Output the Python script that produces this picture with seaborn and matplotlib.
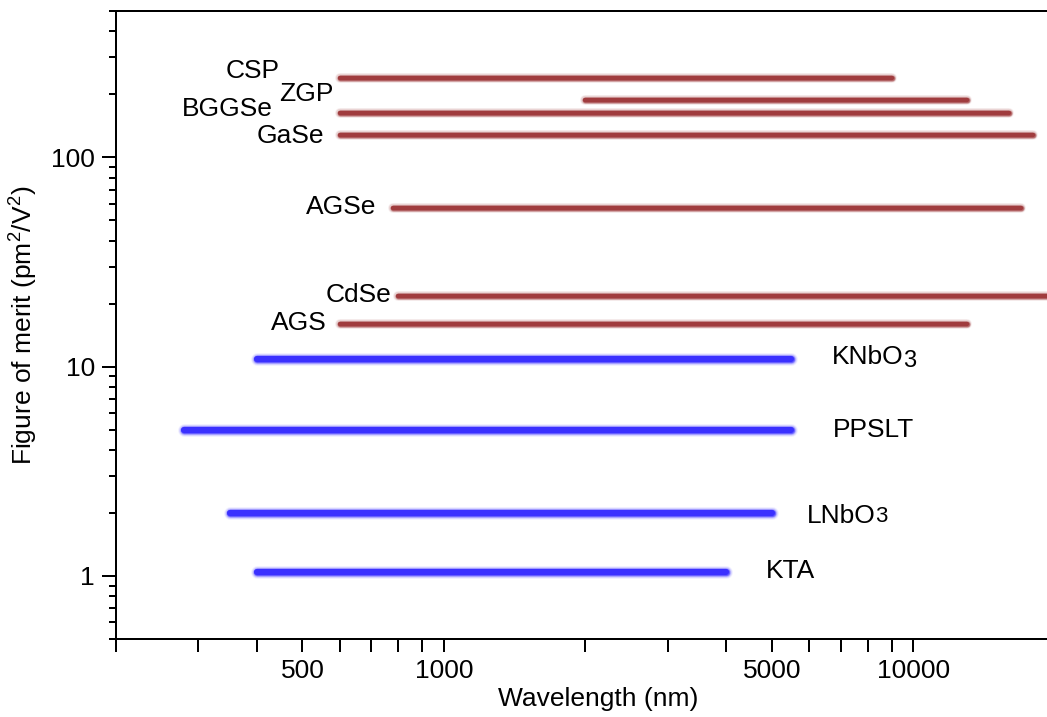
import numpy as np
import pandas as pd
import matplotlib
matplotlib.use("Agg")
import matplotlib.pyplot as plt
import matplotlib.patheffects as pe
from matplotlib.ticker import FixedLocator, LogLocator, NullFormatter, FuncFormatter
import seaborn as sns

# Nonlinear optical crystals: transparency range and figure of merit
ir_names = ["CSP", "ZGP", "BGGSe", "GaSe", "AGSe", "CdSe", "AGS"]
ir_start = [600, 2000, 600, 600, 780, 800, 600]          # nm
ir_end = [9000, 13000, 16000, 18000, 17000, 24000, 13000]  # nm
ir_fom = [240, 188, 163, 128, 57.5, 21.7, 16.0]           # pm^2/V^2

ox_names = ["KNbO3", "PPSLT", "LNbO3", "KTA"]
ox_start = [400, 280, 350, 400]
ox_end = [5500, 5500, 5000, 4000]
ox_fom = [10.9, 5.0, 2.0, 1.04]

x_major = [500, 1000, 5000, 10000]
y_major = [1, 10, 100]

RED = "#a03c3e"
BLUE = "#3a30ff"
FS = 19


def long_form(names, start, end, fom, kind):
    rows = []
    for n, s, e, f in zip(names, start, end, fom):
        rows.append({"material": n, "wavelength": s, "merit": f, "kind": kind})
        rows.append({"material": n, "wavelength": e, "merit": f, "kind": kind})
    return pd.DataFrame(rows)


df_ir = long_form(ir_names, ir_start, ir_end, ir_fom, "IR")
df_ox = long_form(ox_names, ox_start, ox_end, ox_fom, "oxide")

sns.set_theme(style="ticks")
plt.rcParams["font.family"] = ["Liberation Sans", "DejaVu Sans"]
plt.rcParams["mathtext.fontset"] = "custom"
plt.rcParams["mathtext.rm"] = "Liberation Sans"
plt.rcParams["mathtext.it"] = "Liberation Sans"
plt.rcParams["text.color"] = "black"
plt.rcParams["axes.labelcolor"] = "black"
plt.rcParams["xtick.color"] = "black"
plt.rcParams["ytick.color"] = "black"

fig = plt.figure(figsize=(10.47, 7.17), dpi=100)
ax = fig.add_axes([0.1105, 0.1088, 0.921, 0.876])

sns.lineplot(data=df_ir, x="wavelength", y="merit", units="material",
             estimator=None, sort=False, color=RED, lw=3.2,
             solid_capstyle="round", legend=False, ax=ax)
n_ir = len(ax.lines)
sns.lineplot(data=df_ox, x="wavelength", y="merit", units="material",
             estimator=None, sort=False, color=BLUE, lw=4.4,
             solid_capstyle="round", legend=False, ax=ax)

# soft glow around the bars
for i, ln in enumerate(ax.lines):
    lw = ln.get_linewidth()
    extra = 4.0 if i < n_ir else 4.8
    ln.set_path_effects([
        pe.Stroke(linewidth=lw + extra, alpha=0.08),
        pe.Stroke(linewidth=lw + extra * 0.7, alpha=0.15),
        pe.Stroke(linewidth=lw + extra * 0.4, alpha=0.3),
        pe.Stroke(linewidth=lw + extra * 0.15, alpha=0.55),
        pe.Normal(),
    ])

ax.set_xscale("log")
ax.set_yscale("log")
ax.set_xlim(200, 22660)
ax.set_ylim(0.5, 500)

ax.xaxis.set_major_locator(FixedLocator(x_major))
ax.xaxis.set_minor_locator(LogLocator(base=10, subs=np.arange(1, 10)))
ax.yaxis.set_major_locator(FixedLocator(y_major))
ax.yaxis.set_minor_locator(LogLocator(base=10, subs=np.arange(1, 10)))
plain = FuncFormatter(lambda v, p: f"{v:g}")
ax.xaxis.set_major_formatter(plain)
ax.yaxis.set_major_formatter(plain)
ax.xaxis.set_minor_formatter(NullFormatter())
ax.yaxis.set_minor_formatter(NullFormatter())

ax.tick_params(axis="x", which="both", direction="out", length=9.4,
               width=1.44, color="black", labelsize=FS, pad=5,
               labelcolor="black")
ax.tick_params(axis="y", which="major", direction="out", length=10,
               width=1.44, color="black", labelsize=FS, pad=5,
               labelcolor="black")
ax.tick_params(axis="y", which="minor", direction="out", length=5,
               width=1.44, color="black")

for side in ["left", "bottom", "top"]:
    ax.spines[side].set_linewidth(1.44)
    ax.spines[side].set_color("black")
ax.spines["right"].set_visible(False)

ax.set_xlabel("Wavelength (nm)", fontsize=FS, color="black")
ax.set_ylabel(r"Figure of merit (pm$^2$/V$^2$)", fontsize=FS, color="black")
ax.xaxis.set_label_coords((598 - 115.7) / 964.3, -0.077)
ax.yaxis.set_label_coords(-0.079, 0.5)

# labels for the infrared crystals (right-aligned, left of the bars)
ir_label_x = [446, 583, 433, 556, 717, 775, 564]
ir_label_y = [238.6, 184.9, 156.8, 117.5, 53.4, 20.4, 14.9]
for n, x, y in zip(ir_names, ir_label_x, ir_label_y):
    ax.text(x, y, n, ha="right", va="baseline", fontsize=FS, color="black")

# labels for the oxide crystals (to the right of the bars)
ox_label_x = [6726, 6758, 5950, 4866]
ox_label_y = [10.3, 4.63, 1.79, 0.975]
for n, x, y in zip(ox_names, ox_label_x, ox_label_y):
    if n == "KNbO3":
        t = ax.text(x, y, "KNbO", ha="left", va="baseline", fontsize=FS,
                    color="black")
        ax.annotate("3", xy=(1, 0), xycoords=t, xytext=(-0.6, -2.5),
                    textcoords="offset points", ha="left", va="bottom",
                    fontsize=17, color="black")
    elif n == "LNbO3":
        t = ax.text(x, y, "LNbO", ha="left", va="baseline", fontsize=FS,
                    color="black")
        ax.annotate("3", xy=(1, 0), xycoords=t, xytext=(-0.6, 0.5),
                    textcoords="offset points", ha="left", va="bottom",
                    fontsize=16, color="black")
    else:
        ax.text(x, y, n, ha="left", va="baseline", fontsize=FS, color="black")

fig.savefig("out.png", dpi=100)
